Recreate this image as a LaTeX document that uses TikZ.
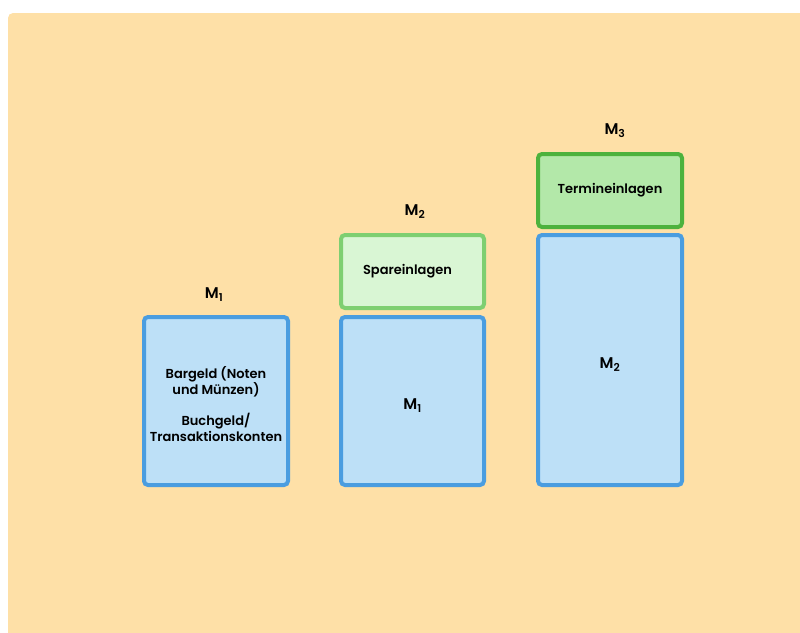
\documentclass[tikz,border=0pt]{standalone}
\usepackage{fontspec}
\setmainfont{Poppins}[BoldFont={Poppins SemiBold}]
\usepackage{tikz}

\definecolor{hintergrund}{HTML}{FEE0A7}
\definecolor{blaufill}{HTML}{BDE0F7}
\definecolor{blaudraw}{HTML}{4A9DE0}
\definecolor{hellgruenfill}{HTML}{D9F6D4}
\definecolor{hellgruendraw}{HTML}{7ECF71}
\definecolor{gruenfill}{HTML}{B3E8A9}
\definecolor{gruendraw}{HTML}{4DB23D}

% Text etwas tiefer setzen, ohne die Box zu veraendern
\newcommand{\tiefer}[1]{\raisebox{-5pt}[\height][\depth]{#1}}

\begin{document}
\begin{tikzpicture}[x=1pt, y=-1pt]
  \tikzstyle{box} = [rectangle, rounded corners=4pt, line width=4pt, inner sep=0pt, font=\bfseries\fontsize{13}{15.5}\selectfont]
  \tikzstyle{basis} = [box, draw=blaudraw, fill=blaufill]
  \tikzstyle{spar} = [box, draw=hellgruendraw, fill=hellgruenfill]
  \tikzstyle{termin} = [box, draw=gruendraw, fill=gruenfill]
  \tikzstyle{aggregat} = [font=\bfseries\fontsize{15.5}{17}\selectfont]

  \clip (0,0) rectangle (800,632);
  \fill[hintergrund, rounded corners=5pt] (8,13) rectangle (812,644);

  \node[basis, minimum width=144, minimum height=168] (m1box) at (216,401)
    {\tiefer{\begin{tabular}{@{}c@{}}Bargeld (Noten\\und Münzen)\\[14pt]Buchgeld/\\Transaktionskonten\end{tabular}}};
  \node[basis, minimum width=143, minimum height=168] (m2basis) at (412.5,401)
    {\tiefer{\fontsize{15.5}{17}\selectfont M\textsubscript{1}}};
  \node[spar, minimum width=143, minimum height=73] (spareinlagen) at (412.5,271.5)
    {\hspace*{-10pt}Spareinlagen};
  \node[basis, minimum width=144, minimum height=250] (m3basis) at (610,360)
    {\tiefer{\fontsize{15.5}{17}\selectfont M\textsubscript{2}}};
  \node[termin, minimum width=144, minimum height=73] (termineinlagen) at (610,190.5)
    {Termineinlagen};

  \node[aggregat] (m1) at (214,295) {M\textsubscript{1}};
  \node[aggregat] (m2) at (415,212) {M\textsubscript{2}};
  \node[aggregat] (m3) at (615,131) {M\textsubscript{3}};
\end{tikzpicture}
\end{document}
